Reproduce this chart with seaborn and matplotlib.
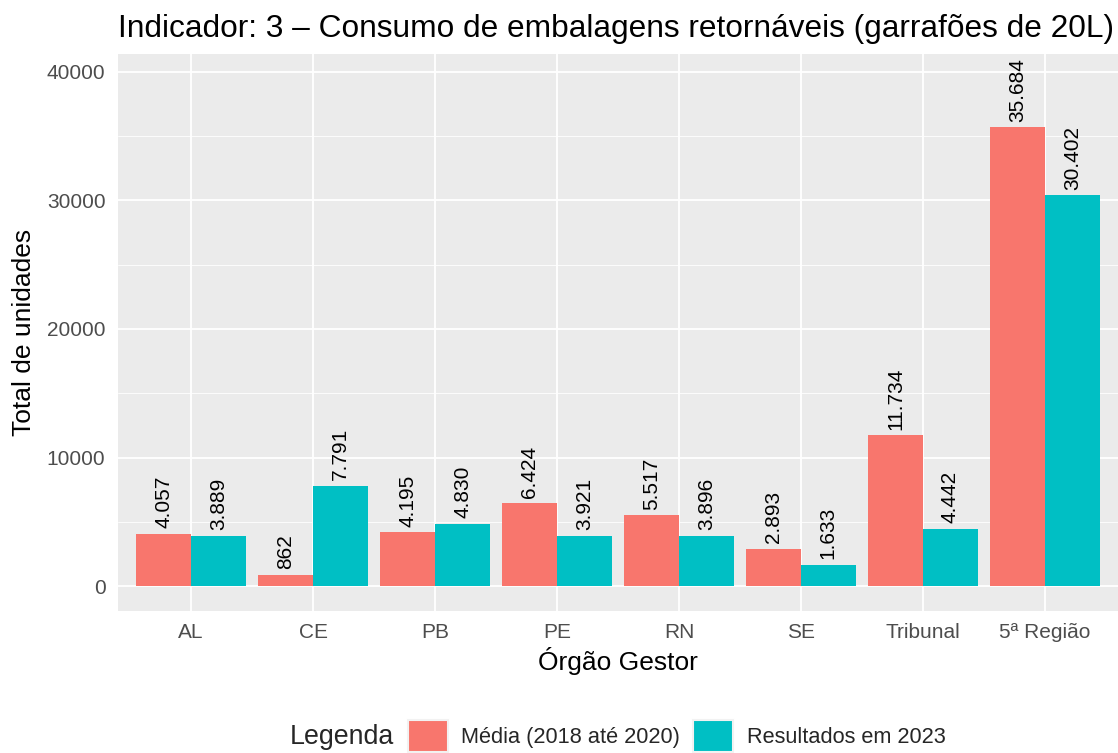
import matplotlib
matplotlib.use("Agg")
import matplotlib.pyplot as plt
from matplotlib.patches import Patch
from matplotlib.ticker import MultipleLocator
import seaborn as sns
import pandas as pd

categorias = ["AL", "CE", "PB", "PE", "RN", "SE", "Tribunal", "5ª Região"]
media_2018_2020 = [4057, 862, 4195, 6424, 5517, 2893, 11734, 35684]
resultados_2023 = [3889, 7791, 4830, 3921, 3896, 1633, 4442, 30402]
series = ["Média (2018 até 2020)", "Resultados em 2023"]
cores = ["#F8766D", "#00BFC4"]
y_ticks = [0, 10000, 20000, 30000, 40000]

df = pd.DataFrame({
    "orgao": categorias * 2,
    "valor": media_2018_2020 + resultados_2023,
    "serie": [series[0]] * len(categorias) + [series[1]] * len(categorias),
})

sns.set_theme(style="darkgrid")
plt.rcParams["font.family"] = ["Liberation Sans", "DejaVu Sans"]

W, H = 1118, 753
fig = plt.figure(figsize=(W / 100, H / 100), dpi=100)
ax = fig.add_axes([118 / W, 1 - 611 / H, 1000 / W, (611 - 54) / H])
ax.set_facecolor("#EBEBEB")

sns.barplot(data=df, x="orgao", y="valor", hue="serie", order=categorias,
            hue_order=series, palette=cores, width=0.9, gap=0,
            errorbar=None, saturation=1, ax=ax, legend=False, zorder=3,
            linewidth=0, edgecolor="none")

for cont in ax.containers:
    vals = [b.get_height() for b in cont]
    ax.bar_label(cont, labels=[f"{int(round(v)):,}".replace(",", ".") for v in vals],
                 rotation=90, padding=4, fontsize=15, color="black")

ax.set_xlim(-0.6, 7.6)
ax.set_ylim(-1945, 41400)
ax.set_yticks(y_ticks)
ax.yaxis.set_minor_locator(MultipleLocator(5000))
ax.grid(which="major", color="white", linewidth=1.3, zorder=0)
ax.grid(which="minor", axis="y", color="white", linewidth=0.6, zorder=0)
ax.grid(which="minor", axis="x", visible=False)
ax.set_axisbelow(True)
for s in ax.spines.values():
    s.set_visible(False)

ax.tick_params(axis="both", which="major", length=5, width=1.3, color="#333333",
               labelcolor="#4D4D4D", labelsize=15, pad=4)
ax.tick_params(axis="both", which="minor", length=0)
ax.set_xlabel("Órgão Gestor", fontsize=19, color="black", labelpad=3)
ax.set_ylabel("Total de unidades", fontsize=19, color="black", labelpad=8)
ax.set_title("Indicador: 3 – Consumo de embalagens retornáveis (garrafões de 20L)",
             loc="left", fontsize=22.8, color="black", pad=12)

fig.text(290 / W, 1 - 737 / H, "Legenda", fontsize=19.3, ha="left", va="center")
handles = [Patch(facecolor=c, edgecolor="#F2F2F2", linewidth=1.5) for c in cores]
fig.legend(handles, series, loc="center left", bbox_to_anchor=(408 / W, 1 - 736 / H),
           ncol=2, frameon=False, fontsize=15.7, borderpad=0, borderaxespad=0,
           handlelength=1.83, handleheight=1.83, handletextpad=0.62,
           columnspacing=0.6)

fig.savefig("out.png", dpi=100)
